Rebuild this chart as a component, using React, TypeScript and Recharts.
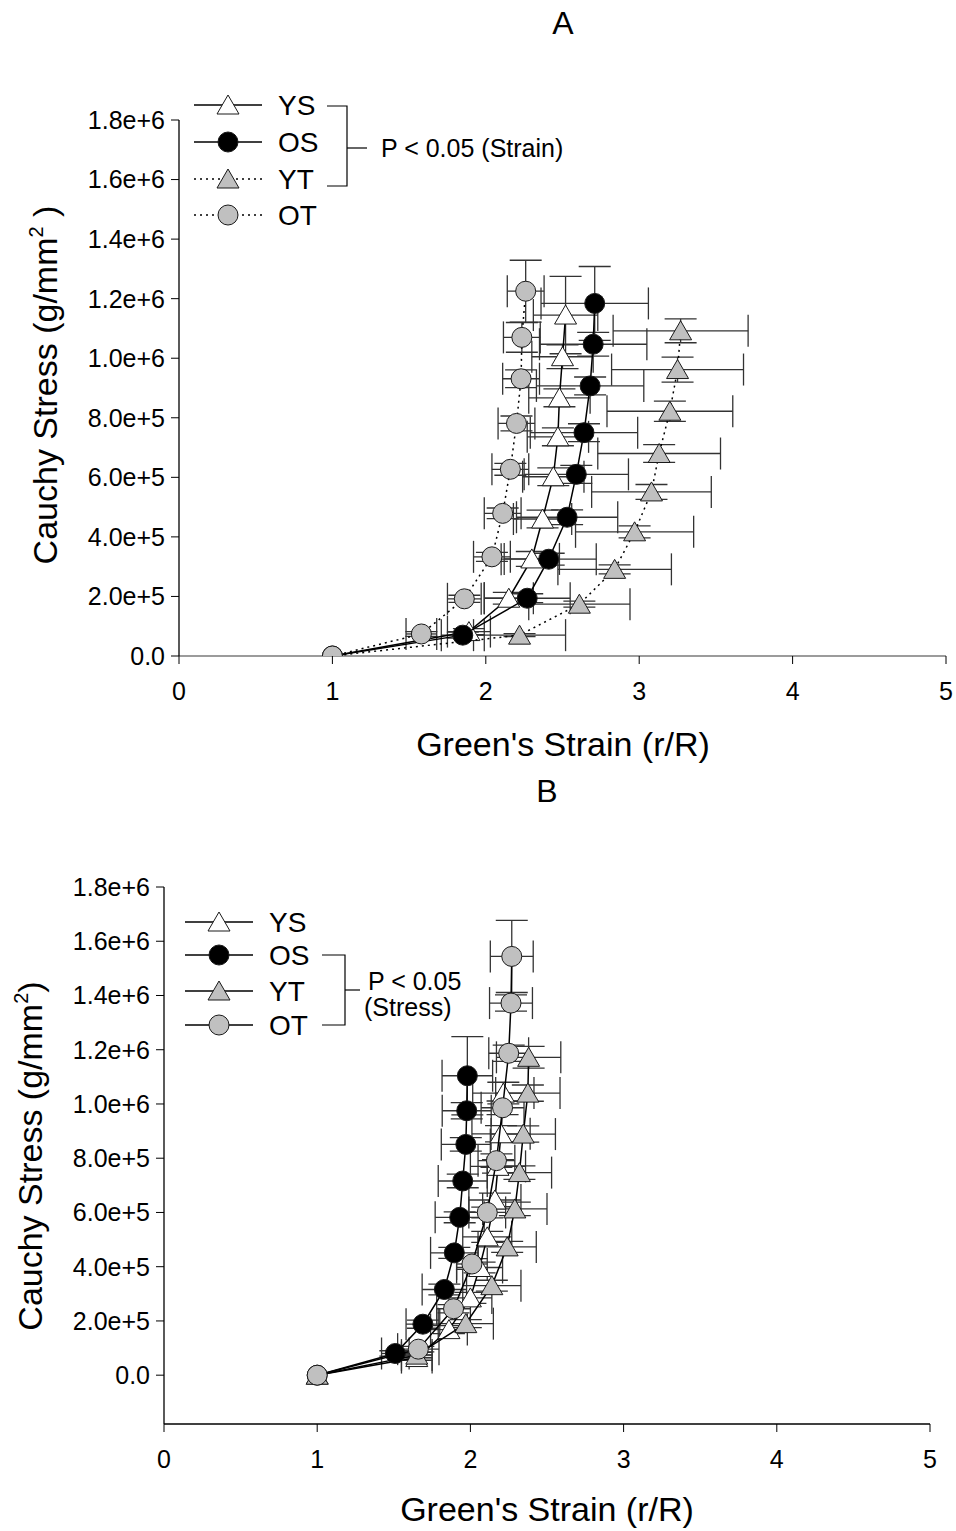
import { ScatterChart, Scatter, XAxis, YAxis, ErrorBar } from 'recharts';

// [strain, stress, strain SE, stress SE]
type Row = [number, number, number, number];

const strainTicks = [0, 1, 2, 3, 4, 5];
const stressTicks = [0, 2e5, 4e5, 6e5, 8e5, 1e6, 1.2e6, 1.4e6, 1.6e6, 1.8e6];

// Panel A
const aYS: Row[] = [
  [1, 0, 0, 0], [1.89, 8.2e4, 0.14, 1e4], [2.15, 1.94e5, 0.16, 2e4], [2.3, 3.26e5, 0.18, 2.5e4],
  [2.37, 4.6e5, 0.19, 3e4], [2.44, 6.02e5, 0.2, 3e4], [2.47, 7.36e5, 0.2, 3e4],
  [2.48, 8.67e5, 0.2, 3e4], [2.5, 1.005e6, 0.2, 4e4], [2.52, 1.145e6, 0.21, 1.3e5],
];
const aOS: Row[] = [
  [1, 0, 0, 0], [1.85, 7.0e4, 0.14, 1e4], [2.27, 1.94e5, 0.28, 1.5e4], [2.41, 3.25e5, 0.31, 2e4],
  [2.53, 4.66e5, 0.33, 2.5e4], [2.59, 6.1e5, 0.34, 3e4], [2.64, 7.5e5, 0.35, 3e4],
  [2.68, 9.07e5, 0.35, 3e4], [2.7, 1.047e6, 0.35, 4e4], [2.71, 1.184e6, 0.35, 1.24e5],
];
const aYT: Row[] = [
  [1, 0, 0, 0], [2.22, 7.0e4, 0.3, 5e3], [2.61, 1.74e5, 0.33, 1e4], [2.84, 2.91e5, 0.37, 1.5e4],
  [2.97, 4.17e5, 0.385, 2e4], [3.08, 5.51e5, 0.39, 2.5e4], [3.13, 6.8e5, 0.4, 3e4],
  [3.2, 8.22e5, 0.41, 3.4e4], [3.25, 9.62e5, 0.43, 4.2e4], [3.27, 1.092e6, 0.44, 4e4],
];
const aOT: Row[] = [
  [1, 0, 0, 0], [1.58, 7.4e4, 0.1, 8e3], [1.86, 1.92e5, 0.11, 1.2e4], [2.04, 3.33e5, 0.12, 1.5e4],
  [2.11, 4.79e5, 0.12, 1.8e4], [2.16, 6.27e5, 0.12, 2e4], [2.2, 7.81e5, 0.12, 2.5e4],
  [2.23, 9.31e5, 0.12, 3e4], [2.235, 1.07e6, 0.12, 5e4], [2.26, 1.225e6, 0.12, 1.04e5],
];

// Panel B
const bYS: Row[] = [
  [1, 0, 0, 0], [1.65, 6.5e4, 0.1, 1e4], [1.86, 1.68e5, 0.12, 1.5e4], [2.0, 2.85e5, 0.14, 2e4],
  [2.06, 3.97e5, 0.15, 2e4], [2.11, 5.1e5, 0.16, 2e4], [2.16, 6.46e5, 0.17, 2.5e4],
  [2.18, 7.7e5, 0.18, 2.5e4], [2.2, 8.9e5, 0.19, 3e4], [2.215, 1.04e6, 0.2, 4e4],
];
const bOS: Row[] = [
  [1, 0, 0, 0], [1.51, 8.0e4, 0.09, 1e4], [1.69, 1.88e5, 0.11, 1.5e4], [1.83, 3.16e5, 0.145, 2e4],
  [1.895, 4.51e5, 0.155, 2e4], [1.93, 5.82e5, 0.16, 2e4], [1.95, 7.16e5, 0.16, 2.5e4],
  [1.97, 8.51e5, 0.16, 2.5e4], [1.976, 9.75e5, 0.16, 3e4], [1.98, 1.104e6, 0.165, 1.44e5],
];
const bYT: Row[] = [
  [1, 0, 0, 0], [1.65, 7.4e4, 0.1, 1e4], [1.97, 1.9e5, 0.18, 1.5e4], [2.14, 3.3e5, 0.19, 2e4],
  [2.24, 4.73e5, 0.19, 2e4], [2.29, 6.13e5, 0.21, 2.5e4], [2.32, 7.47e5, 0.21, 2.5e4],
  [2.345, 8.89e5, 0.21, 3e4], [2.375, 1.04e6, 0.21, 3e4], [2.38, 1.172e6, 0.21, 4e4],
];
const bOT: Row[] = [
  [1, 0, 0, 0], [1.66, 9.6e4, 0.135, 1e4], [1.89, 2.45e5, 0.11, 1.5e4], [2.01, 4.1e5, 0.1, 2e4],
  [2.11, 6.0e5, 0.12, 2e4], [2.17, 7.91e5, 0.12, 2.5e4], [2.21, 9.86e5, 0.14, 2.5e4],
  [2.25, 1.187e6, 0.13, 3e4], [2.265, 1.372e6, 0.14, 3e4], [2.27, 1.544e6, 0.14, 1.33e5],
];

const FONT = '"Liberation Sans", Arial, Helvetica, sans-serif';
const GRAY = '#c0c0c0';

type Kind = 'tri' | 'circle';
const groups: { name: string; kind: Kind; fill: string }[] = [
  { name: 'YS', kind: 'tri', fill: '#ffffff' },
  { name: 'OS', kind: 'circle', fill: '#000000' },
  { name: 'YT', kind: 'tri', fill: GRAY },
  { name: 'OT', kind: 'circle', fill: GRAY },
];

const toData = (rows: Row[]) => rows.map(([x, y, xe, ye]) => ({ x, y, xe, ye }));
const fmtStress = (v: number) => (v === 0 ? '0.0' : v.toExponential(1));

function Marker({ cx, cy, kind, fill }: { cx: number; cy: number; kind: Kind; fill: string }) {
  if (cx == null || cy == null) return null;
  if (kind === 'circle') return <circle cx={cx} cy={cy} r={10} fill={fill} stroke="#1a1a1a" strokeWidth={1} />;
  return (
    <polygon
      points={`${cx},${cy - 10} ${cx - 11},${cy + 9} ${cx + 11},${cy + 9}`}
      fill={fill}
      stroke="#1a1a1a"
      strokeWidth={1}
    />
  );
}

interface PanelProps {
  series: Row[][];
  dotted: boolean[];
  height: number;
  margin: { top: number; right: number; bottom: number; left: number };
  yDomain: [number, number];
  xAxisColor: string;
}

function Panel({ series, dotted, height, margin, yDomain, xAxisColor }: PanelProps) {
  const tick = { fill: '#000', fontSize: 25, fontFamily: FONT };
  return (
    <ScatterChart width={956} height={height} margin={margin}>
      <XAxis
        type="number"
        dataKey="x"
        domain={[0, 5]}
        ticks={strainTicks}
        allowDataOverflow
        height={60}
        tick={tick}
        tickSize={8}
        tickMargin={18}
        axisLine={{ stroke: xAxisColor, strokeWidth: 1.3 }}
        tickLine={{ stroke: '#000' }}
      />
      <YAxis
        type="number"
        dataKey="y"
        domain={yDomain}
        ticks={stressTicks}
        allowDataOverflow
        width={100}
        tick={tick}
        tickSize={8}
        tickMargin={6}
        tickFormatter={fmtStress}
        axisLine={{ stroke: '#000', strokeWidth: 1.3 }}
        tickLine={{ stroke: '#000' }}
      />
      {groups.map((g, i) => (
        <Scatter
          key={g.name}
          name={g.name}
          data={toData(series[i])}
          isAnimationActive={false}
          line={{ stroke: '#000', strokeWidth: 1.5, strokeDasharray: dotted[i] ? '2 4' : undefined }}
          shape={(p: any) => <Marker cx={p.cx} cy={p.cy} kind={g.kind} fill={g.fill} />}
        >
          <ErrorBar dataKey="xe" direction="x" width={16} stroke="#333" strokeWidth={1.3} />
          <ErrorBar dataKey="ye" direction="y" width={16} stroke="#333" strokeWidth={1.3} />
        </Scatter>
      ))}
    </ScatterChart>
  );
}

function LegendRow({ x, y, kind, fill, dotted, label }: any) {
  return (
    <g>
      <line x1={x} y1={y} x2={x + 68} y2={y} stroke="#000" strokeWidth={1.5} strokeDasharray={dotted ? '2 4' : undefined} />
      <Marker cx={x + 34} cy={y} kind={kind} fill={fill} />
      <text x={x + 84} y={y + 10} fontSize={28} fontFamily={FONT}>{label}</text>
    </g>
  );
}

function Overlay() {
  const aRows = [105, 142, 179, 215];
  const bRows = [922, 955, 991, 1025];
  return (
    <svg width={956} height={1531} style={{ position: 'absolute', left: 0, top: 0, pointerEvents: 'none' }}>
      <g fontFamily={FONT} fill="#000">
        <text x={563} y={34} fontSize={32} textAnchor="middle">A</text>
        <text x={563} y={756} fontSize={34} textAnchor="middle">Green's Strain (r/R)</text>
        <text transform="translate(57,385) rotate(-90)" fontSize={34} textAnchor="middle">
          Cauchy Stress (g/mm<tspan fontSize={20} dy={-14}>2</tspan><tspan dy={14}> )</tspan>
        </text>

        <text x={547} y={802} fontSize={32} textAnchor="middle">B</text>
        <text x={547} y={1521} fontSize={34} textAnchor="middle">Green's Strain (r/R)</text>
        <text transform="translate(42,1156) rotate(-90)" fontSize={34} textAnchor="middle">
          Cauchy Stress (g/mm<tspan fontSize={20} dy={-14}>2</tspan><tspan dy={14}>)</tspan>
        </text>
      </g>

      {groups.map((g, i) => (
        <LegendRow key={'a' + g.name} x={194} y={aRows[i]} kind={g.kind} fill={g.fill} dotted={i >= 2} label={g.name} />
      ))}
      <polyline points="327,106 347,106 347,186 327,186" fill="none" stroke="#000" strokeWidth={1.2} />
      <line x1={347} y1={148} x2={367} y2={148} stroke="#000" strokeWidth={1.2} />
      <text x={381} y={157} fontSize={25} fontFamily={FONT}>P &lt; 0.05 (Strain)</text>

      {groups.map((g, i) => (
        <LegendRow key={'b' + g.name} x={185} y={bRows[i]} kind={g.kind} fill={g.fill} dotted={false} label={g.name} />
      ))}
      <polyline points="322,955 345,955 345,1025 322,1025" fill="none" stroke="#000" strokeWidth={1.2} />
      <line x1={345} y1={990} x2={360} y2={990} stroke="#000" strokeWidth={1.2} />
      <text x={368} y={990} fontSize={25} fontFamily={FONT}>P &lt; 0.05</text>
      <text x={364} y={1016} fontSize={25} fontFamily={FONT}>(Stress)</text>
    </svg>
  );
}

export default function App() {
  return (
    <div style={{ position: 'absolute', left: 0, top: 0, width: 956, height: 1531, background: '#fff', fontFamily: FONT }}>
      <div style={{ position: 'absolute', left: 0, top: 0 }}>
        <Panel
          series={[aYS, aOS, aYT, aOT]}
          dotted={[false, false, true, true]}
          height={760}
          margin={{ top: 120, right: 10, bottom: 44, left: 79 }}
          yDomain={[0, 1.8e6]}
          xAxisColor="#7a7a7a"
        />
      </div>
      <div style={{ position: 'absolute', left: 0, top: 770 }}>
        <Panel
          series={[bYS, bOS, bYT, bOT]}
          dotted={[false, false, false, false]}
          height={761}
          margin={{ top: 117, right: 26, bottom: 47, left: 64 }}
          yDomain={[-1.8e5, 1.8e6]}
          xAxisColor="#000"
        />
      </div>
      <Overlay />
    </div>
  );
}
